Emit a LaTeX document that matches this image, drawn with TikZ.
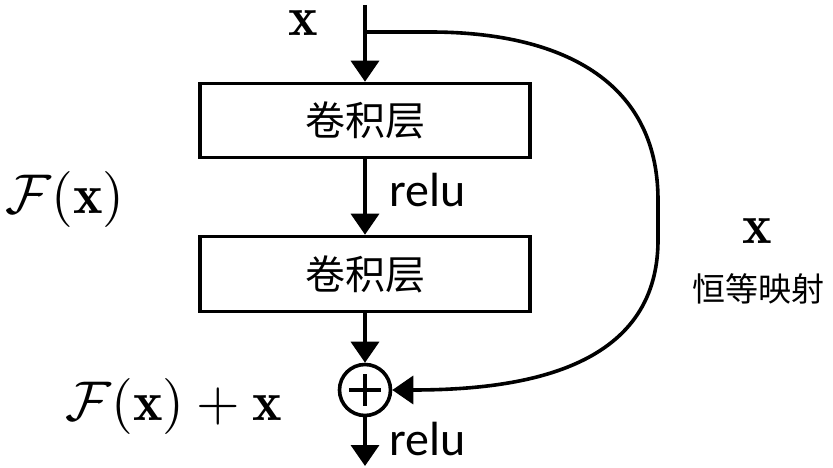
\documentclass[tikz,border=0pt]{standalone}
\usepackage{graphicx}
\usepackage{fontspec}
\newfontfamily\cjk{Noto Sans CJK SC}
\newfontfamily\relufont{Carlito}
\usetikzlibrary{arrows.meta}
\newcommand{\bigmath}[1]{\scalebox{5.6}{$#1$}}
\begin{document}
\begin{tikzpicture}[x=1pt,y=-1pt,
  box/.style={draw, line width=3.6pt, minimum width=330pt, minimum height=74pt, inner sep=0pt, font=\cjk\fontsize{40}{44}\selectfont},
  conn/.style={line width=3.6pt, -{Triangle[length=21pt,width=28pt]}},
  mathlbl/.style={inner sep=0pt},
  relulbl/.style={inner sep=0pt, anchor=base west, font=\relufont\fontsize{48}{52}\selectfont},
  cjklbl/.style={inner sep=0pt, font=\cjk\fontsize{33}{36}\selectfont}]
\useasboundingbox (0,0) rectangle (833,468);

\coordinate (in) at (365,5);
\coordinate (split) at (365,32);
\coordinate (out) at (365,466);

\node[box] (conv1) at (365,120.5) {卷积层};
\node[box, minimum height=75pt] (conv2) at (365,274) {卷积层};
\node[draw, circle, line width=3.6pt, minimum size=51pt, inner sep=0pt] (plus) at (365,390) {};
\draw[line width=3.6pt] (plus.center) +(-16,0) -- +(16,0);
\draw[line width=3.6pt] (plus.center) +(0,-16) -- +(0,16);

\draw[conn] (in) -- (conv1.north);
\draw[conn] (conv1.south) -- (conv2.north);
\draw[conn] (conv2.south) -- (plus.north);
\draw[conn] (plus.south) -- (out);
\draw[conn] (split) -- (430,32) .. controls (560,32) and (658,80) .. (658,200)
  -- (658,240) .. controls (658,370) and (520,390) .. (plus.east);

\node[mathlbl] (xtop) at (303,23) {\bigmath{\mathbf{x}}};
\node[mathlbl] (fx) at (65,199) {\bigmath{\mathcal{F}(\mathbf{x})}};
\node[mathlbl] (fxx) at (174,406) {\bigmath{\mathcal{F}(\mathbf{x})+\mathbf{x}}};
\node[mathlbl] (xright) at (757,231) {\bigmath{\mathbf{x}}};
\node[cjklbl] (ident) at (758,289) {恒等映射};
\node[relulbl] (relu1) at (389,207) {relu};
\node[relulbl] (relu2) at (389,455) {relu};
\end{tikzpicture}
\end{document}
